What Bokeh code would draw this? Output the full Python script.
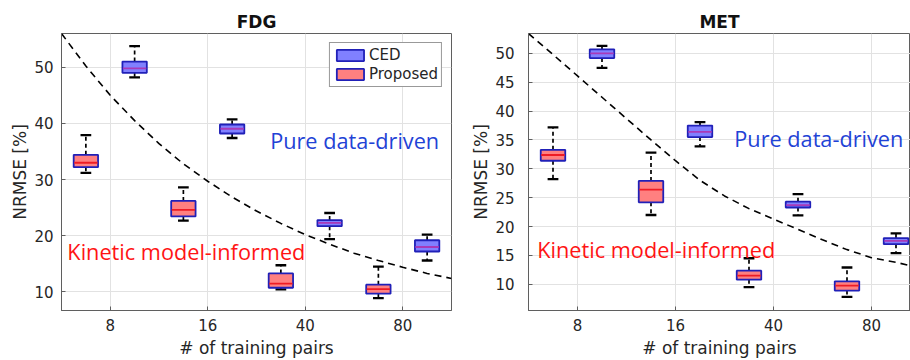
import numpy as np
from bokeh.plotting import figure
from bokeh.layouts import row
from bokeh.models import ColumnDataSource, FixedTicker, Label, Range1d, Legend, LegendItem
from bokeh.embed import file_html
from bokeh.resources import INLINE

# ---------------- data ----------------
categories = ["8", "16", "40", "80"]

# FDG panel (box statistics: lower whisker, q1, median, q3, upper whisker)
fdg_ced_low = [48.2, 37.4, 19.4, 15.6]
fdg_ced_q1 = [49.0, 38.2, 21.7, 17.2]
fdg_ced_med = [49.8, 39.05, 22.3, 18.0]
fdg_ced_q3 = [51.0, 39.8, 22.8, 19.2]
fdg_ced_high = [53.75, 40.7, 24.05, 20.2]

fdg_prop_low = [31.2, 22.7, 10.45, 8.9]
fdg_prop_q1 = [32.2, 23.45, 10.75, 9.7]
fdg_prop_med = [33.0, 24.6, 11.5, 10.5]
fdg_prop_q3 = [34.4, 26.2, 13.3, 11.3]
fdg_prop_high = [37.9, 28.6, 14.75, 14.5]

# MET panel
met_ced_low = [47.5, 33.9, 21.95, 15.4]
met_ced_q1 = [49.2, 35.5, 23.3, 16.95]
met_ced_med = [50.0, 36.4, 23.7, 17.5]
met_ced_q3 = [50.7, 37.5, 24.3, 18.0]
met_ced_high = [51.3, 38.1, 25.6, 18.8]

met_prop_low = [28.2, 22.0, 9.5, 7.8]
met_prop_q1 = [31.4, 24.2, 10.8, 8.9]
met_prop_med = [32.4, 26.4, 11.5, 9.75]
met_prop_q3 = [33.3, 27.9, 12.35, 10.5]
met_prop_high = [37.2, 32.8, 14.5, 12.9]

# dashed boundary curves
curve_x = [0.5, 0.75, 1.0, 1.25, 1.5, 1.75, 2.0, 2.25, 2.5, 2.75, 3.0, 3.25, 3.5, 3.75, 4.0, 4.25, 4.5]
fdg_curve_y = [56.0, 50.2, 45.0, 40.5, 36.4, 32.8, 29.7, 26.9, 24.4, 22.2, 20.2, 18.5, 16.9, 15.6, 14.4, 13.3, 12.4]
met_curve_y = [53.45, 49.8, 46.1, 42.4, 38.7, 35.0, 31.4, 28.0, 25.3, 23.1, 21.3, 19.5, 17.7, 16.0, 14.6, 13.8, 12.8]

fdg_yticks = [10, 20, 30, 40, 50]
met_yticks = [10, 15, 20, 25, 30, 35, 40, 45, 50]

legend_labels = ["CED", "Proposed"]

# ---------------- styling ----------------
CED_FILL = "#8080ff"
PROP_FILL = "#ff8080"
BOX_EDGE = "#2020b8"
CED_MED = "#a83ab8"
PROP_MED = "#ee1c24"
AX_COLOR = "#5f5f5f"
TXT_COLOR = "#262626"
GRID_COLOR = "#e2e2e2"
BLUE_TXT = "#1f43d6"
RED_TXT = "#ff1414"


def make_panel(title, ced, prop, curve_y, y_range, y_ticks, x_end, width,
               border_left, border_right, tick_standoff, pure_xy, kin_xy, legend):
    p = figure(width=width, height=360, output_backend="svg", toolbar_location=None,
               x_range=Range1d(0.5, x_end), y_range=Range1d(*y_range),
               min_border_left=border_left, min_border_right=border_right,
               min_border_top=33, min_border_bottom=50,
               background_fill_color="white", border_fill_color="white")
    p.outline_line_color = AX_COLOR
    p.outline_line_width = 1

    p.title.text = title
    p.title.align = "center"
    p.title.text_font = "DejaVu Sans"
    p.title.text_font_style = "bold"
    p.title.text_font_size = "17px"
    p.title.text_color = "#111111"
    p.title.standoff = 3

    pos = np.arange(1, len(categories) + 1)
    p.xaxis.ticker = FixedTicker(ticks=list(pos))
    p.xaxis.major_label_overrides = {int(i): c for i, c in zip(pos, categories)}
    p.yaxis.ticker = FixedTicker(ticks=y_ticks)
    p.xgrid.ticker = FixedTicker(ticks=list(pos))
    p.ygrid.ticker = FixedTicker(ticks=y_ticks)
    p.grid.grid_line_color = GRID_COLOR
    p.grid.grid_line_width = 1

    for ax in (p.xaxis, p.yaxis):
        ax.axis_line_color = AX_COLOR
        ax.major_tick_line_color = AX_COLOR
        ax.major_tick_in = 4
        ax.major_tick_out = 0
        ax.minor_tick_line_color = None
        ax.major_label_text_font = "DejaVu Sans"
        ax.major_label_text_font_size = "15px"
        ax.major_label_text_color = TXT_COLOR
        ax.axis_label_text_font = "DejaVu Sans"
        ax.axis_label_text_font_size = "17px"
        ax.axis_label_text_font_style = "normal"
        ax.axis_label_text_color = TXT_COLOR
    p.xaxis.axis_label = "# of training pairs"
    p.yaxis.axis_label = "NRMSE [%]"
    p.xaxis.major_label_standoff = 8
    p.xaxis.axis_label_standoff = 4
    p.yaxis.major_label_standoff = tick_standoff
    p.yaxis.axis_label_standoff = 1

    # dashed curve
    p.line(curve_x, curve_y, line_color="black", line_width=1.6, line_dash="7 5")

    renderers = []
    for stats, offset, fill, med_color in ((ced, 0.25, CED_FILL, CED_MED),
                                           (prop, -0.25, PROP_FILL, PROP_MED)):
        low, q1, med, q3, high = stats
        x = pos + offset
        src = ColumnDataSource(dict(x=x, low=low, q1=q1, med=med, q3=q3, high=high,
                                    x0=x - 0.12, x1=x + 0.12, c0=x - 0.055, c1=x + 0.055))
        p.segment(x0="x", y0="q3", x1="x", y1="high", source=src,
                  line_color="black", line_width=1.7, line_dash="4 3")
        p.segment(x0="x", y0="q1", x1="x", y1="low", source=src,
                  line_color="black", line_width=1.7, line_dash="4 3")
        p.segment(x0="c0", y0="high", x1="c1", y1="high", source=src,
                  line_color="black", line_width=2.3)
        p.segment(x0="c0", y0="low", x1="c1", y1="low", source=src,
                  line_color="black", line_width=2.3)
        r = p.vbar(x="x", width=0.25, bottom="q1", top="q3", source=src,
                   fill_color=fill, line_color=BOX_EDGE, line_width=1.8)
        p.segment(x0="x0", y0="med", x1="x1", y1="med", source=src,
                  line_color=med_color, line_width=1.8)
        renderers.append(r)

    p.add_layout(Label(x=pure_xy[0], y=pure_xy[1], text="Pure data-driven",
                       text_font="Open Sans", text_font_size="21.7px", text_color=BLUE_TXT))
    p.add_layout(Label(x=kin_xy[0], y=kin_xy[1], text="Kinetic model-informed",
                       text_font="Open Sans", text_font_size="21.7px", text_color=RED_TXT))

    if legend:
        lg = Legend(items=[LegendItem(label=legend_labels[0], renderers=[renderers[0]]),
                           LegendItem(label=legend_labels[1], renderers=[renderers[1]])],
                    location="top_right")
        lg.margin = 9
        lg.padding = 3
        lg.spacing = 1
        lg.glyph_width = 34
        lg.glyph_height = 14
        lg.label_standoff = 2
        lg.label_height = 14
        lg.label_text_font = "DejaVu Sans"
        lg.label_text_font_size = "15px"
        lg.label_text_color = TXT_COLOR
        lg.border_line_color = "#333333"
        lg.border_line_width = 1
        lg.background_fill_alpha = 1
        p.add_layout(lg)
    return p


fdg = (fdg_ced_low, fdg_ced_q1, fdg_ced_med, fdg_ced_q3, fdg_ced_high)
fdg_p = (fdg_prop_low, fdg_prop_q1, fdg_prop_med, fdg_prop_q3, fdg_prop_high)
met = (met_ced_low, met_ced_q1, met_ced_med, met_ced_q3, met_ced_high)
met_p = (met_prop_low, met_prop_q1, met_prop_med, met_prop_q3, met_prop_high)

p1 = make_panel("FDG", fdg, fdg_p, fdg_curve_y, (6.7, 56.0), fdg_yticks, 4.5, 455,
                61, 4, 8, (2.64, 34.4), (0.56, 14.66), True)
p2 = make_panel("MET", met, met_p, met_curve_y, (5.45, 53.45), met_yticks, 4.398, 455,
                73, 0, 14, (2.60, 32.72), (0.59, 13.48), False)

layout = row(p1, p2)
open("out.html", "w").write(file_html(layout, INLINE))
